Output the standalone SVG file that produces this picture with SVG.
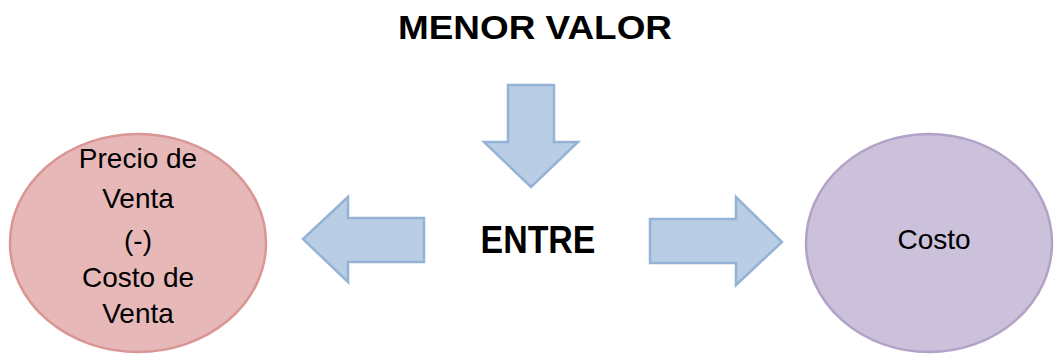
<svg xmlns="http://www.w3.org/2000/svg" width="1055" height="354" viewBox="0 0 1055 354">
<style>
.arrow{fill:#b9cde5;stroke:#95b3d7;stroke-width:2.5;stroke-linejoin:miter}
.t{font-family:"Liberation Sans",Arial,sans-serif;fill:#000;text-anchor:middle}
.b{font-weight:bold}
.n{font-size:28px}
</style>
<rect width="1055" height="354" fill="#fff"/>
<g id="title"><text class="t b" x="535" y="39" font-size="34" textLength="274" lengthAdjust="spacingAndGlyphs">MENOR VALOR</text></g>
<g id="connectors">
<path class="arrow" d="M508,85 L554,85 L554,142 L578,142 L531,187 L484,142 L508,142 Z"/>
<path class="arrow" d="M424,218 L424,262 L348,262 L348,282 L303,239 L348,197 L348,218 Z"/>
<path class="arrow" d="M650,219 L736,219 L736,197 L782,242 L736,285 L736,263 L650,263 Z"/>
</g>
<g id="entre"><text class="t b" x="538" y="253" font-size="38" textLength="115" lengthAdjust="spacingAndGlyphs">ENTRE</text></g>
<g id="node-precio">
<ellipse cx="138" cy="243" rx="128" ry="109" fill="#e6b9b8" stroke="#d99694" stroke-width="2.5"/>
<text class="t n" x="138" y="168">Precio de</text>
<text class="t n" x="138" y="208">Venta</text>
<text class="t n" x="138" y="250">(-)</text>
<text class="t n" x="138" y="287">Costo de</text>
<text class="t n" x="138" y="323">Venta</text>
</g>
<g id="node-costo">
<ellipse cx="929" cy="243" rx="123" ry="109" fill="#ccc1da" stroke="#b3a2c7" stroke-width="2.5"/>
<text class="t n" x="934" y="249">Costo</text>
</g>
</svg>
